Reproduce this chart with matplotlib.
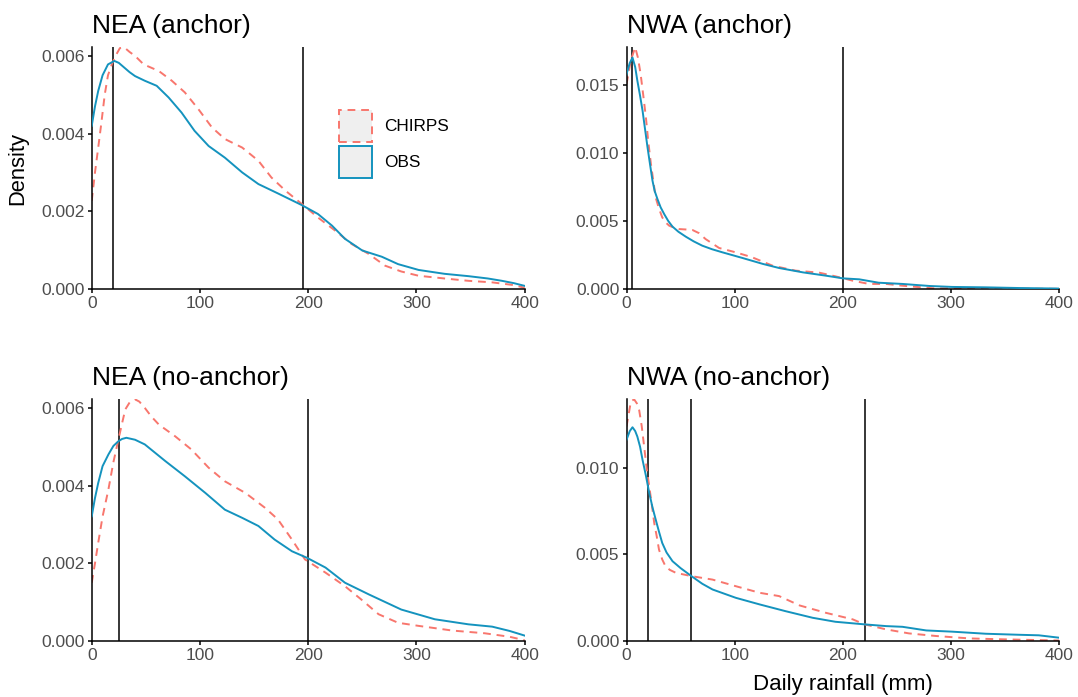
import matplotlib

matplotlib.use("Agg")

import matplotlib.pyplot as plt
from matplotlib.patches import Patch

plt.rcParams["font.family"] = ["Liberation Sans", "DejaVu Sans"]

OBS_COLOR = "#1493BE"
CHIRPS_COLOR = "#F8766D"
KEY_FILL = "#EFEFEF"

# NEA (anchor)
nea_anchor_obs_x = [0, 3, 6, 10, 15, 20.9, 25, 30, 35, 40, 49, 60, 71, 83, 95, 108, 123,
                    139, 154, 172, 194, 209, 222, 234, 250, 268, 283, 302, 326, 348, 366,
                    379, 390, 400]
nea_anchor_obs_y = [0.0042, 0.0047, 0.0051, 0.0055, 0.00578, 0.00587, 0.00582, 0.0057,
                    0.00558, 0.00548, 0.00536, 0.00523, 0.00493, 0.00454, 0.00407, 0.00368,
                    0.00338, 0.0030, 0.0027, 0.00246, 0.00216, 0.00193, 0.00163, 0.00129,
                    0.00099, 0.00083, 0.00064, 0.00049, 0.00039, 0.00033, 0.00027, 0.00021,
                    0.00015, 0.00008]
nea_anchor_chirps_x = [0, 3, 6, 9, 12, 15, 18.5, 22, 26, 30, 35, 40, 48, 62, 74, 86, 98.5,
                       111, 123, 139, 154, 166, 179, 194, 209, 225, 240, 256, 271, 286, 302,
                       326, 348, 370, 390, 400]
nea_anchor_chirps_y = [0.00227, 0.0030, 0.00364, 0.0043, 0.0050, 0.0055, 0.00578, 0.0060,
                       0.0062, 0.00622, 0.0061, 0.0060, 0.00578, 0.00561, 0.00536, 0.00506,
                       0.00463, 0.00416, 0.00386, 0.00364, 0.0033, 0.00287, 0.00253, 0.00219,
                       0.00184, 0.0015, 0.00116, 0.0009, 0.0006, 0.00045, 0.00034, 0.00027,
                       0.00021, 0.00017, 0.0001, 0.00003]
nea_anchor_lines = [20, 195]

# NWA (anchor)
nwa_anchor_obs_x = [0, 3, 5.5, 8, 10, 12.5, 14.8, 17, 19.4, 22, 24, 26, 28.6, 31.5, 34.8,
                    38.5, 42.5, 48, 54.8, 62, 70, 79, 88.7, 107, 126, 141, 163, 184, 200,
                    215, 233, 255, 280, 301, 332, 363, 400]
nwa_anchor_obs_y = [0.01579, 0.0166, 0.0170, 0.0163, 0.0153, 0.0142, 0.0131, 0.0118, 0.0104,
                    0.0090, 0.00795, 0.0072, 0.0066, 0.0060, 0.0055, 0.0050, 0.00458, 0.0042,
                    0.00384, 0.00350, 0.00318, 0.00292, 0.00269, 0.00228, 0.00184, 0.00154,
                    0.00122, 0.00098, 0.00078, 0.00071, 0.00046, 0.00037, 0.00022, 0.00015,
                    0.00012, 0.00007, 0.00003]
nwa_anchor_chirps_x = [0, 4, 8, 10.5, 13, 15.5, 17.9, 20, 22.5, 25, 27, 30, 33, 36, 39.4,
                       44, 48.7, 55, 61, 67, 73, 85.6, 101, 116, 135, 156, 178, 193, 209,
                       224, 240, 255, 283, 320, 400]
nwa_anchor_chirps_y = [0.01505, 0.0168, 0.01775, 0.0170, 0.0158, 0.0142, 0.0126, 0.0109,
                       0.0092, 0.0078, 0.0067, 0.0059, 0.00526, 0.0049, 0.00465, 0.0045,
                       0.0044, 0.00437, 0.00433, 0.0041, 0.00367, 0.00301, 0.00269, 0.00233,
                       0.00171, 0.00135, 0.0012, 0.00093, 0.00061, 0.00037, 0.00037, 0.00024,
                       0.00005, 0.00003, 0.00001]
nwa_anchor_lines = [5, 200]

# NEA (no-anchor)
nea_noanchor_obs_x = [0, 3, 6, 10, 15.4, 20, 24.6, 28, 32, 40, 49, 68, 86, 105, 123, 139,
                      154, 169, 185, 199, 216, 234, 256, 286, 317, 348, 370, 386, 400]
nea_noanchor_obs_y = [0.00321, 0.00368, 0.00407, 0.0045, 0.0048, 0.00502, 0.00514, 0.0052,
                      0.00523, 0.00518, 0.00506, 0.00463, 0.00424, 0.00381, 0.00338, 0.00317,
                      0.00296, 0.00261, 0.00231, 0.00214, 0.00189, 0.0015, 0.0012, 0.00081,
                      0.00056, 0.00043, 0.00037, 0.00026, 0.00014]
nea_noanchor_chirps_x = [0, 3, 6, 10, 15.4, 20, 24.6, 28, 31, 35, 40, 44, 49, 55, 62, 77,
                         92, 108, 123, 142, 160, 172, 185, 197, 216, 234, 249, 265, 283, 302,
                         333, 363, 386, 400]
nea_noanchor_chirps_y = [0.0015, 0.0020, 0.00253, 0.0032, 0.0039, 0.0046, 0.00518, 0.0056,
                         0.00596, 0.00614, 0.00622, 0.00616, 0.0060, 0.00578, 0.00557,
                         0.00527, 0.00493, 0.00446, 0.00411, 0.00381, 0.00343, 0.00313,
                         0.00261, 0.0021, 0.00176, 0.00141, 0.00107, 0.00069, 0.00047,
                         0.00039, 0.00027, 0.0002, 0.00011, 0.00002]
nea_noanchor_lines = [25, 200]

# NWA (no-anchor)
nwa_noanchor_obs_x = [0, 3, 5.5, 8, 10, 12.5, 14.8, 18, 21, 24, 27, 30, 33, 37, 42.5, 50,
                      60, 70, 79.5, 101, 123, 147, 172, 193, 220, 240, 255, 277, 301, 332,
                      363, 381, 400]
nwa_noanchor_obs_y = [0.0116, 0.0121, 0.01232, 0.0121, 0.01178, 0.0112, 0.01044, 0.0095,
                      0.00853, 0.0077, 0.00699, 0.0063, 0.00565, 0.0051, 0.0046, 0.0042,
                      0.00374, 0.0033, 0.00297, 0.00249, 0.00211, 0.00172, 0.00134, 0.00111,
                      0.00096, 0.00086, 0.00082, 0.00061, 0.00054, 0.00042, 0.00036, 0.00033,
                      0.00019]
nwa_noanchor_chirps_x = [0, 4, 7, 9.5, 11.7, 14, 16.3, 18.5, 21, 23.5, 25.6, 28, 30, 33, 36,
                         40, 45.6, 60, 79.5, 101, 123, 141, 160, 184, 209, 220, 240, 261,
                         286, 317, 347, 400]
nwa_noanchor_chirps_y = [0.01236, 0.0138, 0.01393, 0.0137, 0.0133, 0.0124, 0.0112, 0.0100,
                         0.0089, 0.0078, 0.0068, 0.0060, 0.00527, 0.0047, 0.00431, 0.0041,
                         0.00393, 0.00374, 0.00354, 0.00316, 0.00278, 0.00259, 0.00205,
                         0.00163, 0.00125, 0.00096, 0.00067, 0.00044, 0.00029, 0.00015,
                         0.0001, 0.00003]
nwa_noanchor_lines = [20, 60, 220]

panel_titles = ["NEA (anchor)", "NWA (anchor)", "NEA (no-anchor)", "NWA (no-anchor)"]
nea_yticks = [0.0, 0.002, 0.004, 0.006]
nwa_anchor_yticks = [0.0, 0.005, 0.010, 0.015]
nwa_noanchor_yticks = [0.0, 0.005, 0.010]
xticks = [0, 100, 200, 300, 400]

PANELS = [
    (nea_anchor_obs_x, nea_anchor_obs_y, nea_anchor_chirps_x, nea_anchor_chirps_y,
     nea_anchor_lines, nea_yticks),
    (nwa_anchor_obs_x, nwa_anchor_obs_y, nwa_anchor_chirps_x, nwa_anchor_chirps_y,
     nwa_anchor_lines, nwa_anchor_yticks),
    (nea_noanchor_obs_x, nea_noanchor_obs_y, nea_noanchor_chirps_x, nea_noanchor_chirps_y,
     nea_noanchor_lines, nea_yticks),
    (nwa_noanchor_obs_x, nwa_noanchor_obs_y, nwa_noanchor_chirps_x, nwa_noanchor_chirps_y,
     nwa_noanchor_lines, nwa_noanchor_yticks),
]

# axes boxes in figure fractions (left, bottom, width, height)
AXES_BOXES = [
    (0.0851, 0.5854, 0.4016, 0.3467),
    (0.5812, 0.5854, 0.4015, 0.3467),
    (0.0851, 0.0803, 0.4016, 0.3468),
    (0.5812, 0.0803, 0.4015, 0.3468),
]


def _style_axis(axis, yticks: list[float]) -> None:
    for side in ("top", "right"):
        axis.spines[side].set_visible(False)
    for side in ("left", "bottom"):
        axis.spines[side].set_linewidth(1.1)
        axis.spines[side].set_color("black")
    axis.set_xlim(0, 400)
    axis.set_xticks(xticks)
    axis.set_yticks(yticks)
    axis.set_yticklabels([f"{tick:.3f}" for tick in yticks])
    axis.tick_params(
        direction="out", length=3.2, width=1.1, color="black",
        labelsize=12.5, labelcolor="#4D4D4D", pad=2,
    )


def _draw_panel(axis, panel, title: str) -> None:
    obs_x, obs_y, chirps_x, chirps_y, lines, yticks = panel
    for line_x in lines:
        axis.axvline(line_x, color="black", linewidth=1.1, zorder=1)
    axis.plot(chirps_x, chirps_y, color=CHIRPS_COLOR, linewidth=1.4,
              linestyle=(0, (4, 3)), zorder=2)
    axis.plot(obs_x, obs_y, color=OBS_COLOR, linewidth=1.4, zorder=3)
    axis.set_ylim(0, max(max(obs_y), max(chirps_y)))
    axis.set_title(title, loc="left", fontsize=19, pad=10)
    _style_axis(axis, yticks)


figure = plt.figure(figsize=(10.78, 6.97), dpi=100)
axes = [figure.add_axes(box) for box in AXES_BOXES]
for axis, panel, title in zip(axes, PANELS, panel_titles):
    _draw_panel(axis, panel, title)

axes[0].set_ylabel("Density", fontsize=15.8)
axes[0].yaxis.set_label_coords(-0.147, 0.5)
axes[3].set_xlabel("Daily rainfall (mm)", fontsize=16)
axes[3].xaxis.set_label_coords(0.5, -0.135)

legend_handles = [
    Patch(facecolor=KEY_FILL, edgecolor=CHIRPS_COLOR, linestyle=(0, (4, 3)),
          linewidth=1.4, label="CHIRPS"),
    Patch(facecolor=KEY_FILL, edgecolor=OBS_COLOR, linewidth=1.4, label="OBS"),
]
axes[0].legend(
    handles=legend_handles,
    loc="upper left",
    bbox_to_anchor=(0.572, 0.741),
    frameon=False,
    fontsize=12.4,
    handlelength=1.9,
    handleheight=2.5,
    labelspacing=0.2,
    handletextpad=0.7,
    borderpad=0,
    borderaxespad=0,
)

figure.savefig("out.png", dpi=100)
plt.close(figure)
